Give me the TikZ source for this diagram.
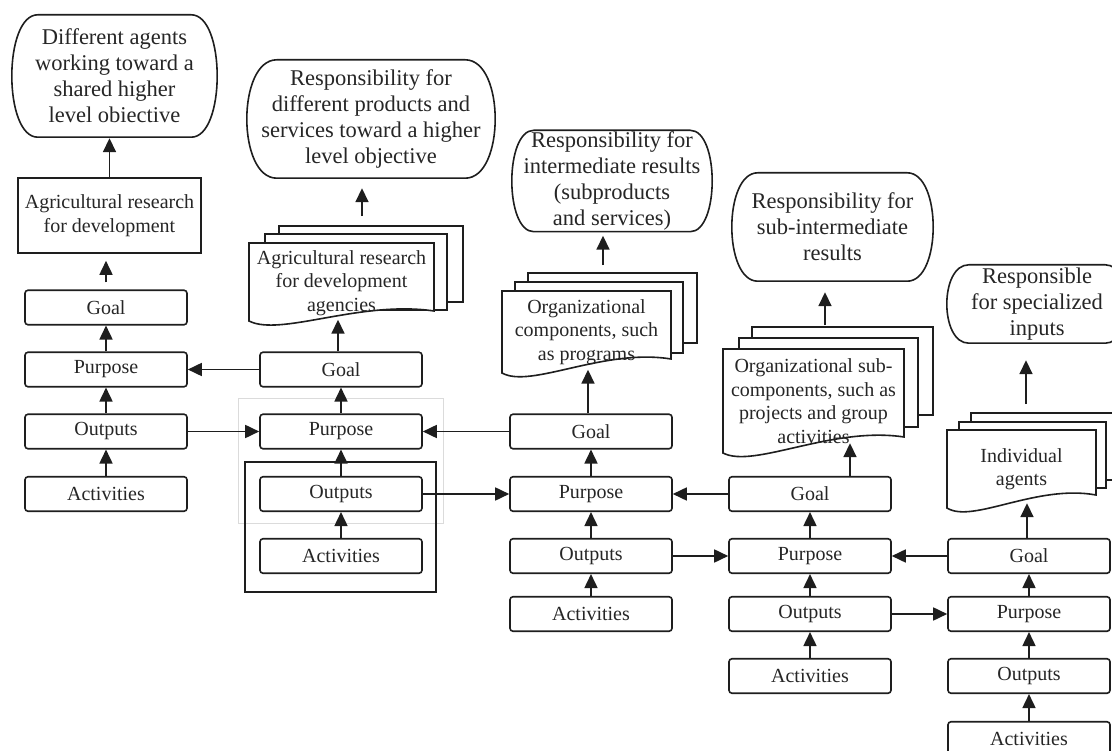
\documentclass[tikz,border=0pt]{standalone}
\usepackage{fontspec}
\setmainfont{Liberation Serif}
\usetikzlibrary{arrows.meta,calc}
\definecolor{ink}{HTML}{1E1E1E}
\definecolor{txt}{HTML}{262626}
\newcommand\cloudoutline[2]{%
  \draw[ln] ([xshift=#2pt]#1.north west) -- ([xshift=-#2pt]#1.north east)
    .. controls ([xshift=#2pt/3]#1.north east) and ([xshift=#2pt/3]#1.south east) .. ([xshift=-#2pt]#1.south east)
    -- ([xshift=#2pt]#1.south west)
    .. controls ([xshift=-#2pt/3]#1.south west) and ([xshift=-#2pt/3]#1.north west) .. cycle;}
\newcommand\docshape[5]{%
  \filldraw[ln,fill=white] (#1,#2) -- (#3,#2) -- (#3,#5)
    .. controls ({#1+0.6*(#3-#1)},{#5-11}) and ({#1+0.17*(#3-#1)},{#4+16}) .. (#1,#4) -- cycle;}
\begin{document}
\begin{tikzpicture}[x=1pt,y=-1pt,
  ln/.style={draw=ink,line width=1.6pt},
  box/.style={ln,rounded corners=3pt,fill=white,minimum width=162pt,minimum height=34.5pt,inner sep=0pt,font=\fontsize{20}{24}\selectfont,text=txt},
  plainbox/.style={ln,fill=white,inner sep=0pt,align=center,font=\fontsize{20}{24}\selectfont,text=txt},
  page/.style={ln,fill=white,inner sep=0pt},
  doctext/.style={align=center,inner sep=0pt,font=\fontsize{20}{23.5}\selectfont,text=txt},
  cloudtext/.style={align=center,inner sep=0pt,font=\fontsize{22.5}{26}\selectfont,text=txt},
  arr/.style={draw=ink,line width=1.7pt,-{Triangle[length=14pt,width=13pt]}},
  faint/.style={draw=black!14,line width=0.8pt}]
\useasboundingbox[fill=white] (0,0) rectangle (1112,751);

% frames around column 2
\draw[faint] (238,398) rectangle (443,523);
\node[ln,minimum width=191pt,minimum height=130pt,inner sep=0pt] (frame2) at (340.5,527) {};

% clouds
\node[cloudtext,minimum width=205pt,minimum height=122pt] (c1) at (114.5,76)
  {Different agents\\working toward a\\shared higher\\level obiective};
\cloudoutline{c1}{26}
\node[cloudtext,minimum width=248pt,minimum height=118pt] (c2) at (371,119)
  {Responsibility for\\different products and\\services toward a higher\\level objective};
\cloudoutline{c2}{30}
\node[cloudtext,minimum width=200pt,minimum height=101pt] (c3) at (612,181)
  {Responsibility for\\intermediate results\\(subproducts\\and services)};
\cloudoutline{c3}{22}
\node[cloudtext,minimum width=201pt,minimum height=108pt] (c4) at (832.5,227)
  {Responsibility for\\sub-intermediate\\results};
\cloudoutline{c4}{26}
\node[cloudtext,minimum width=180pt,minimum height=78pt] (c5) at (1037,304)
  {Responsible\\for specialized\\inputs};
\cloudoutline{c5}{22}

% column 1 top box
\node[plainbox,minimum width=183pt,minimum height=75pt] (top1) at (109.5,215.5)
  {Agricultural research\\for development};

% stack 2
\node[page,minimum width=184pt,minimum height=76pt] (s2c) at (371,264) {};
\node[page,minimum width=182pt,minimum height=76pt] (s2b) at (356,272) {};
\docshape{249}{243}{434}{321}{311}
\node[doctext,minimum width=185pt,minimum height=78pt] (s2) at (341.5,283)
  {Agricultural research\\for development\\agencies};

% stack 3
\node[page,minimum width=169pt,minimum height=70pt] (s3c) at (612.5,308) {};
\node[page,minimum width=168pt,minimum height=71pt] (s3b) at (599,317.5) {};
\docshape{502}{291}{671}{373}{359}
\node[doctext,minimum width=169pt,minimum height=82pt] (s3) at (586.5,332)
  {Organizational\\components, such\\as programs};

% stack 4
\node[page,minimum width=181pt,minimum height=88pt] (s4c) at (842.5,371) {};
\node[page,minimum width=179pt,minimum height=89pt] (s4b) at (828.5,382.5) {};
\docshape{723}{349}{904}{453}{437}
\node[doctext,minimum width=181pt,minimum height=104pt] (s4) at (813.5,401)
  {Organizational sub-\\components, such as\\projects and group\\activities};

% stack 5
\node[page,minimum width=147pt,minimum height=67pt] (s5c) at (1044.5,446.5) {};
\node[page,minimum width=147pt,minimum height=66pt] (s5b) at (1032.5,455) {};
\docshape{947}{430}{1096}{508}{495}
\node[doctext,minimum width=149pt,minimum height=78pt] (s5) at (1021.5,469)
  {Individual\\agents};

% logframe boxes
\node[box] (g1) at (106,307.5) {Goal};
\node[box] (p1) at (106,369.5) {Purpose};
\node[box] (o1) at (106,431.5) {Outputs};
\node[box] (a1) at (106,494) {Activities};

\node[box] (g2) at (341,369.5) {Goal};
\node[box] (p2) at (341,431.5) {Purpose};
\node[box] (o2) at (341,494) {Outputs};
\node[box] (a2) at (341,556) {Activities};

\node[box] (g3) at (591,431.5) {Goal};
\node[box] (p3) at (591,494) {Purpose};
\node[box] (o3) at (591,556) {Outputs};
\node[box] (a3) at (591,614) {Activities};

\node[box] (g4) at (810,494) {Goal};
\node[box] (p4) at (810,556) {Purpose};
\node[box] (o4) at (810,614) {Outputs};
\node[box] (a4) at (810,676) {Activities};

\node[box] (g5) at (1029,556) {Goal};
\node[box] (p5) at (1029,614) {Purpose};
\node[box] (o5) at (1029,676) {Outputs};
\node[box] (a5) at (1029,739) {Activities};

% vertical arrows inside columns
\foreach \c in {1,...,5} {
  \draw[arr] (a\c.north) -- (o\c.south);
  \draw[arr] (o\c.north) -- (p\c.south);
  \draw[arr] (p\c.north) -- (g\c.south);
}

% horizontal arrows
\draw[arr] (g2.west) -- (p1.east);
\draw[arr] (o1.east) -- (p2.west);
\draw[arr] (g3.west) -- (p2.east);
\draw[arr] (o2.east) -- (p3.west);
\draw[arr] (g4.west) -- (p3.east);
\draw[arr] (o3.east) -- (p4.west);
\draw[arr] (g5.west) -- (p4.east);
\draw[arr] (o4.east) -- (p5.west);

% column 1 upward
\draw[arr,shorten <=7pt,shorten >=7pt] (g1.north) -- (g1.north |- top1.south);
\draw[arr] (top1.north) -- ($(top1.north |- c1.south)+(0,1)$);

% goal to stacks
\coordinate (ax2) at (338,0);
\coordinate (ax3) at (588,0);
\coordinate (ax4) at (850,0);
\coordinate (ax5) at (1027,0);
\draw[arr] (g2.north -| ax2) -- ($(s2.south -| ax2)+(0,-2.5)$);
\draw[arr] (g3.north -| ax3) -- ($(s3.south -| ax3)+(0,-3.5)$);
\draw[arr] (g4.north -| ax4) -- ($(s4.south -| ax4)+(0,-10)$);
\draw[arr] (g5.north -| ax5) -- ($(s5.south -| ax5)+(0,-5)$);

% stacks to clouds
\coordinate (bx2) at (362,0);
\coordinate (bx3) at (603,0);
\coordinate (bx4) at (825,0);
\coordinate (bx5) at (1026,0);
\draw[arr] ($(s2c.north -| bx2)+(0,-9)$) -- ($(c2.south -| bx2)+(0,10)$);
\draw[arr] ($(s3c.north -| bx3)+(0,-7)$) -- ($(c3.south -| bx3)+(0,4)$);
\draw[arr] ($(s4c.north -| bx4)+(0,-1)$) -- ($(c4.south -| bx4)+(0,11)$);
\draw[arr] ($(s5c.north -| bx5)+(0,-8)$) -- ($(c5.south -| bx5)+(0,17)$);
\end{tikzpicture}
\end{document}
